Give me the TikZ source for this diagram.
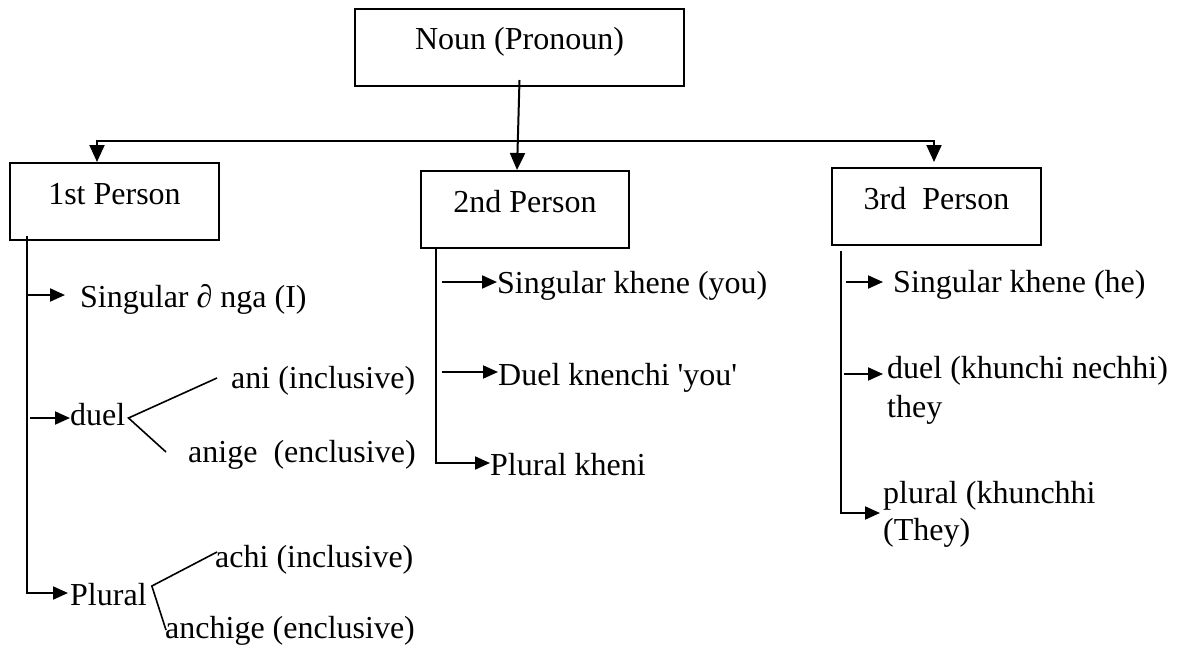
\documentclass[tikz,border=0pt]{standalone}
\usepackage{fontspec}
\newfontfamily\diagfont{Liberation Serif}
\usetikzlibrary{arrows.meta}
\begin{document}
\begin{tikzpicture}[x=1pt,y=-1pt,
  every node/.style={font=\diagfont\fontsize{32}{38}\selectfont},
  box/.style={draw,line width=2pt,inner sep=0pt,text height=41pt,text depth=36pt,anchor=base},
  lbl/.style={inner sep=0pt,anchor=base west},
  link/.style={line width=2pt},
  fork/.style={line width=1.6pt},
  arr/.style={link,-{Triangle[length=15pt,width=13pt]}},
  bigarr/.style={link,-{Triangle[length=17pt,width=15pt]}}
]
\useasboundingbox (0,0) rectangle (1185,653);

% category boxes
\node[box,minimum width=329pt,text height=40pt,text depth=37pt] (noun) at (519.5,49) {Noun (Pronoun)};
\node[box,minimum width=209pt] (p1) at (114.5,204) {1st Person};
\node[box,minimum width=208pt] (p2) at (525,212) {2nd Person};
\node[box,minimum width=209pt] (p3) at (936.5,209) {3rd\ \ Person};

% top level connectors
\draw[bigarr] ([yshift=7pt]noun.south) -- ([xshift=-8pt]p2.north);
\coordinate (busL) at (97,141);
\coordinate (busR) at (934,141);
\coordinate (p1top) at (busL |- p1.north);
\coordinate (p3top) at (busR |- p3.north);
\draw[link,{Triangle[length=17pt,width=15pt]}-{Triangle[length=17pt,width=15pt]}]
  (p1top) -- (busL) -- (busR) -- ([yshift=5pt]p3top);

% first person
\node[lbl] (s1) at (80,307) {Singular ∂ nga (I)};
\node[lbl] (d1) at (70,425) {duel};
\node[lbl] (a1) at (231,388) {ani (inclusive)};
\node[lbl] (e1) at (188,462) {anige\ \ (enclusive)};
\node[lbl] (pl1) at (70,605) {Plural};
\node[lbl] (ac1) at (215,567) {achi (inclusive)};
\node[lbl] (an1) at (165,638) {anchige (enclusive)};

\coordinate (t1) at ([xshift=18pt,yshift=5pt]p1.south west);
\coordinate (s1a) at ([xshift=-15pt,yshift=12pt]s1.base west);
\coordinate (d1a) at ([yshift=7pt]d1.base west);
\coordinate (pl1a) at ([xshift=-2pt,yshift=12pt]pl1.base west);
\draw[arr] (t1 |- s1a) -- (s1a);
\draw[arr] ([xshift=3pt]t1 |- d1a) -- (d1a);
\draw[arr] (t1) |- (pl1a);

\coordinate (d1v) at ([xshift=3pt,yshift=7pt]d1.base east);
\coordinate (a1e) at ([xshift=-14pt,yshift=10pt]a1.base west);
\coordinate (e1e) at ([xshift=-22pt,yshift=10pt]e1.base west);
\draw[fork] (a1e) -- (d1v) -- (e1e);

\coordinate (pl1v) at ([xshift=5pt,yshift=19pt]pl1.base east);
\coordinate (ac1e) at ([xshift=2pt,yshift=15pt]ac1.base west);
\coordinate (an1e) at ([xshift=1pt,yshift=8pt]an1.base west);
\draw[fork] (ac1e) -- (pl1v) -- (an1e);

% second person
\node[lbl] (s2) at (497,293) {Singular khene (you)};
\node[lbl] (du2) at (498,385) {Duel knenchi 'you'};
\node[lbl] (pk2) at (490,475) {Plural kheni};

\coordinate (t2) at ([xshift=18pt]p2.south west);
\coordinate (s2a) at ([yshift=11pt]s2.base west);
\coordinate (du2a) at ([yshift=13pt]du2.base west);
\coordinate (pk2a) at ([yshift=12pt]pk2.base west);
\draw[arr] ([xshift=4pt]t2 |- s2a) -- (s2a);
\draw[arr] ([xshift=4pt]t2 |- du2a) -- (du2a);
\draw[arr] ([xshift=-2pt]t2) |- (pk2a);

% third person
\node[lbl] (s3) at (893,292) {Singular khene (he)};
\node[lbl] (du3) at (887,378) {duel (khunchi nechhi)};
\node[lbl] (du3b) at (887,417) {they};
\node[lbl] (pk3) at (883,503) {plural (khunchhi};
\node[lbl] (pk3b) at (883,540) {(They)};

\coordinate (t3) at ([xshift=10pt,yshift=-5pt]p3.south west);
\coordinate (s3a) at ([xshift=-10pt,yshift=10pt]s3.base west);
\coordinate (du3a) at ([xshift=-4pt,yshift=4pt]du3.base west);
\coordinate (pk3a) at ([xshift=-3pt,yshift=-10pt]pk3.base west);
\draw[arr] ([xshift=5pt]t3 |- s3a) -- (s3a);
\draw[arr] ([xshift=3pt]t3 |- du3a) -- (du3a);
\draw[arr] (t3) |- (pk3a);
\end{tikzpicture}
\end{document}
